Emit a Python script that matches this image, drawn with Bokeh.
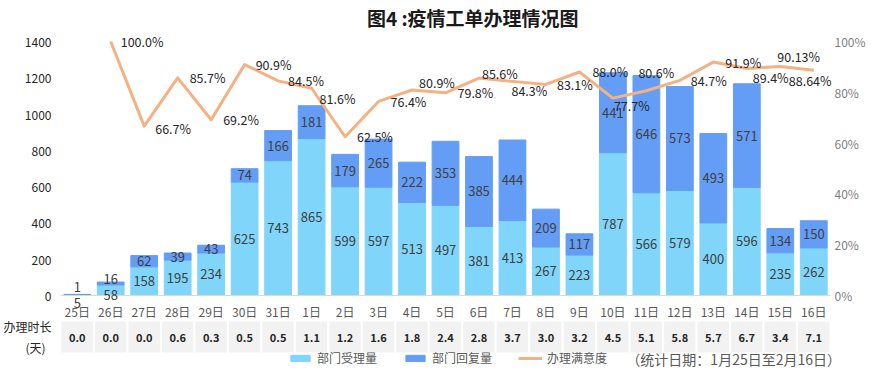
from bokeh.plotting import figure
from bokeh.models import (ColumnDataSource, Range1d, LinearAxis, FixedTicker,
                          NumeralTickFormatter, Label, Legend, LegendItem)
from bokeh.core.properties import value
from bokeh.embed import file_html
from bokeh.resources import INLINE

# ---------------- data ----------------
days = ["25日", "26日", "27日", "28日", "29日", "30日", "31日", "1日", "2日", "3日", "4日",
        "5日", "6日", "7日", "8日", "9日", "10日", "11日", "12日", "13日", "14日", "15日", "16日"]
accepted = [5, 58, 158, 195, 234, 625, 743, 865, 599, 597, 513, 497, 381, 413, 267, 223,
            787, 566, 579, 400, 596, 235, 262]
replied = [1, 16, 62, 39, 43, 74, 166, 181, 179, 265, 222, 353, 385, 444, 209, 117,
           441, 646, 573, 493, 571, 134, 150]
satisfaction = [None, 100.0, 66.7, 85.7, 69.2, 90.9, 84.5, 81.6, 62.5, 76.4, 80.9, 79.8,
                85.6, 84.3, 83.1, 88.0, 77.7, 80.6, 84.7, 91.9, 89.4, 90.13, 88.64]
satisfaction_labels = ["", "100.0%", "66.7%", "85.7%", "69.2%", "90.9%", "84.5%", "81.6%",
                       "62.5%", "76.4%", "80.9%", "79.8%", "85.6%", "84.3%", "83.1%", "88.0%",
                       "77.7%", "80.6%", "84.7%", "91.9%", "89.4%", "90.13%", "88.64%"]
duration = [0.0, 0.0, 0.0, 0.6, 0.3, 0.5, 0.5, 1.1, 1.2, 1.6, 1.8, 2.4, 2.8, 3.7, 3.0, 3.2,
            4.5, 5.1, 5.8, 5.7, 6.7, 3.4, 7.1]
count_ticks = [0, 200, 400, 600, 800, 1000, 1200, 1400]
pct_ticks = [0, 0.2, 0.4, 0.6, 0.8, 1.0]

title_text = "图4 :疫情工单办理情况图"
table_header = "办理时长\n(天)\u2002"
note_text = "（统计日期：1月25日至2月16日）"
legend_labels = ["部门受理量", "部门回复量", "办理满意度"]

# ---------------- layout / style ----------------
W, H = 868, 369
FL = 57                    # frame left (px)
RB = 32                    # right border (px)
STEP = 777 / 23            # px per category
Y0 = 295                   # pixel row of value 0
Y_MAX = 1400
PX_PER = 254 / Y_MAX       # px per unit
N = len(days)

LIGHT = "#7FD6FA"
DARK = "#649DF5"
ORANGE = "#F4B183"
FONT_NAME = "Noto Sans CJK SC"
FONT = value(FONT_NAME)

# label nudges for the satisfaction labels (px right, px down), as in the reference
pct_dx = [0, 10, 11, 12, 12, 11, 10, 8, 12, 12, 7, 12, 3, -1, 11, 13, 1, -8, 11, 12, 6, -3, -25]
pct_dy = [0, 0, 2, 0, 0, 0, 0, 10, 0, 0, -8, 0, -5, 9, 0, 0, 7, -18, 0, 0, 9, -10, 10]


def ydat(fy):
    return (Y0 - fy) / PX_PER


def xdat(fx):
    return (fx - FL) / STEP - 0.5


y_start, y_end = ydat(H), ydat(0)
x_end = xdat(W - RB)

p = figure(width=W, height=H, x_range=Range1d(-0.5, x_end),
           y_range=Range1d(y_start, y_end), x_axis_type=None,
           output_backend="svg", toolbar_location=None,
           min_border_left=FL, min_border_right=RB,
           min_border_top=0, min_border_bottom=0)
p.outline_line_color = None
p.grid.visible = False
p.background_fill_color = "white"
p.border_fill_color = "white"

p.extra_y_ranges = {"pct": Range1d(y_start / Y_MAX, y_end / Y_MAX)}

# table rows (pixel rows -> data)
cell_top, cell_bot = ydat(320), ydat(353)
header_tick = int(round((cell_top + cell_bot) / 2))

# left axis (also carries the table's row header)
ya = p.yaxis[0]
ya.ticker = FixedTicker(ticks=count_ticks + [header_tick])
ya.major_label_overrides = {header_tick: table_header}
ya.axis_line_color = None
ya.major_tick_line_color = None
ya.minor_tick_line_color = None
ya.major_tick_out = 0
ya.major_tick_in = 0
ya.major_label_standoff = 9
ya.major_label_text_font = FONT_NAME
ya.major_label_text_font_size = "12px"
ya.major_label_text_color = "#262626"

# right axis
ra = LinearAxis(y_range_name="pct", ticker=FixedTicker(ticks=pct_ticks),
                formatter=NumeralTickFormatter(format="0%"))
ra.axis_line_color = None
ra.major_tick_line_color = None
ra.minor_tick_line_color = None
ra.major_tick_out = 0
ra.major_tick_in = 0
ra.major_label_standoff = 2
ra.major_label_text_font = FONT_NAME
ra.major_label_text_font_size = "12px"
ra.major_label_text_color = "#7F7F7F"
p.add_layout(ra, "right")

idx = list(range(N))

# bars
src = ColumnDataSource(dict(x=idx, accepted=accepted, replied=replied))
bars = p.vbar_stack(["accepted", "replied"], x="x", width=0.8, color=[LIGHT, DARK], source=src)

# x axis baseline across the categories
p.segment(x0=[-0.5], y0=[0], x1=[N - 0.5], y1=[0], line_color="#D9D9D9", line_width=1)

# bar value labels (spread apart when the segments are too thin)
lab_x, lab_y, lab_t, lab_off = [], [], [], []
MIN_SEP = 16
for i in idx:
    ya_c = accepted[i] / 2
    yr_c = accepted[i] + replied[i] / 2
    sep = (yr_c - ya_c) * PX_PER
    off_a = off_r = 0.0
    if sep < MIN_SEP:
        mid = (ya_c + yr_c) / 2
        off_a = (mid - ya_c) * PX_PER - MIN_SEP / 2
        off_r = (mid - yr_c) * PX_PER + MIN_SEP / 2
    lab_x += [i, i]
    lab_y += [ya_c, yr_c]
    lab_t += [str(accepted[i]), str(replied[i])]
    lab_off += [-off_a, -off_r]
lsrc = ColumnDataSource(dict(x=lab_x, y=lab_y, t=lab_t, off=lab_off))
p.text(x="x", y="y", text="t", y_offset="off", source=lsrc, text_align="center",
       text_baseline="middle", text_font=FONT, text_font_size="13px", text_color="#404040")

# satisfaction line
sat_y = [v / 100 if v is not None else float("nan") for v in satisfaction]
line = p.line(x=idx, y=sat_y, y_range_name="pct", line_color=ORANGE, line_width=3,
              line_join="round")
pi = [i for i in idx if satisfaction[i] is not None]
psrc = ColumnDataSource(dict(x=pi, y=[sat_y[i] for i in pi],
                             t=[satisfaction_labels[i] for i in pi],
                             dx=[pct_dx[i] for i in pi], dy=[pct_dy[i] for i in pi]))
p.text(x="x", y="y", text="t", source=psrc, y_range_name="pct", x_offset="dx",
       y_offset="dy", text_align="left", text_baseline="middle", text_font=FONT,
       text_font_size="12.5px", text_color="#262626")

# x category labels
p.text(x=idx, y=[ydat(311)] * N, text=days, text_align="center", text_baseline="middle",
       text_font=FONT, text_font_size="12px", text_color="#595959")

# duration table
p.rect(x=idx, y=[(cell_top + cell_bot) / 2] * N, width=1, height=cell_top - cell_bot,
       fill_color="#F2F2F2", line_color="white", line_width=2)
p.text(x=idx, y=[(cell_top + cell_bot) / 2] * N, text=[f"{d:.1f}" for d in duration],
       text_align="center", text_baseline="middle", text_font=FONT, text_font_size="11px",
       text_font_style="bold", text_color="#262626")

# title
p.add_layout(Label(x=xdat(473), y=ydat(17), text=title_text, text_align="center",
                   text_baseline="middle", text_font=FONT_NAME, text_font_size="19px",
                   text_font_style="bold", text_color="#1A1A1A"))

# legend
legend = Legend(items=[LegendItem(label=legend_labels[0], renderers=[bars[0]]),
                       LegendItem(label=legend_labels[1], renderers=[bars[1]]),
                       LegendItem(label=legend_labels[2], renderers=[line])],
                location=(228, 3), orientation="horizontal",
                glyph_width=24, glyph_height=8, label_height=12, label_standoff=5,
                spacing=26, padding=0, margin=0, border_line_color=None,
                background_fill_alpha=0, label_text_font=FONT_NAME,
                label_text_font_size="12px", label_text_color="#595959")
p.add_layout(legend)
p.add_layout(Label(x=xdat(628), y=ydat(358), text=note_text, text_align="left",
                   text_baseline="middle", text_font=FONT_NAME, text_font_size="14px",
                   text_color="#595959"))

open("out.html", "w").write(file_html(p, INLINE))
